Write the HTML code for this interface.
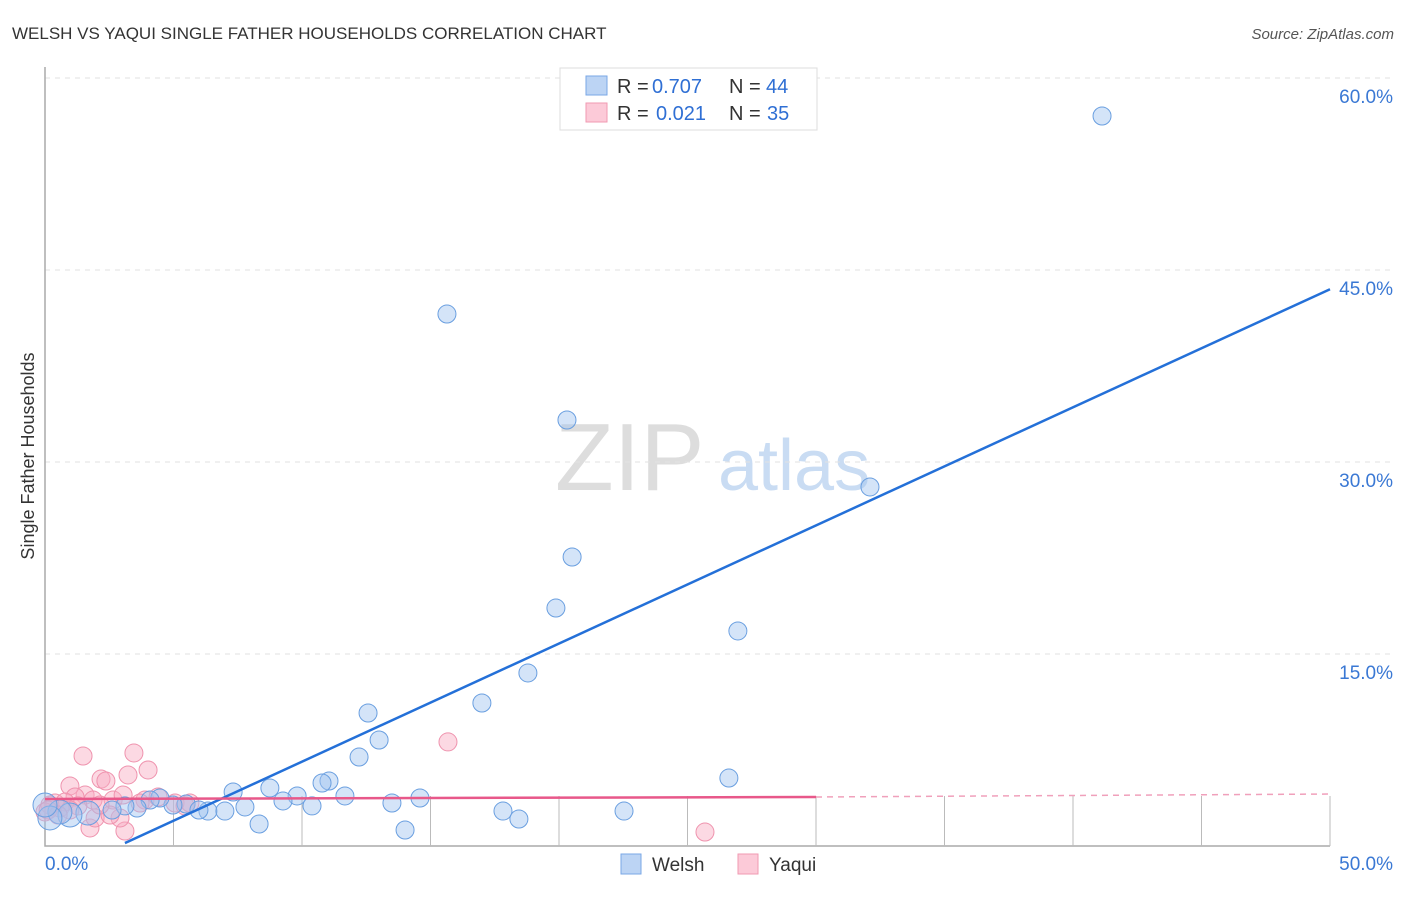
<!DOCTYPE html>
<html><head><meta charset="utf-8"><style>
body{margin:0;background:#fff;font-family:"Liberation Sans",sans-serif}
svg text{font-family:"Liberation Sans",sans-serif}
</style></head><body>
<svg width="1406" height="892" id="chart">
<text x="12" y="39" font-size="17" fill="#333">WELSH VS YAQUI SINGLE FATHER HOUSEHOLDS CORRELATION CHART</text>
<text x="1394" y="39" font-size="15" fill="#555" font-style="italic" text-anchor="end">Source: ZipAtlas.com</text>
<text x="34" y="456" font-size="18" fill="#333" text-anchor="middle" transform="rotate(-90 34 456)">Single Father Households</text>
<text x="555" y="490" font-size="96" fill="#ddd" font-family="Liberation Serif">ZIP</text>
<text x="718" y="490" font-size="72" fill="#c9dcf3">atlas</text>
<g id="grid"></g><g id="pts"></g><g id="lines"></g>
<g>
<rect x="560" y="68" width="257" height="62" fill="#fff" stroke="#ddd"/>
<rect x="586" y="76" width="21" height="19" fill="#bcd4f4" stroke="#7aa7e6"/>
<text x="617" y="93" font-size="20" fill="#333">R =</text>
<text x="652" y="93" font-size="20" fill="#2f6fd4">0.707</text>
<text x="729" y="93" font-size="20" fill="#333">N =</text>
<text x="766" y="93" font-size="20" fill="#2f6fd4">44</text>
<rect x="586" y="103" width="21" height="19" fill="#fccad8" stroke="#f09ab2"/>
<text x="617" y="120" font-size="20" fill="#333">R =</text>
<text x="656" y="120" font-size="20" fill="#2f6fd4">0.021</text>
<text x="729" y="120" font-size="20" fill="#333">N =</text>
<text x="767" y="120" font-size="20" fill="#2f6fd4">35</text>
</g>
<g>
<rect x="621" y="854" width="20" height="20" fill="#bcd4f4" stroke="#7aa7e6"/>
<text x="652" y="871" font-size="19" fill="#333">Welsh</text>
<rect x="738" y="854" width="20" height="20" fill="#fccad8" stroke="#f09ab2"/>
<text x="769" y="871" font-size="19" fill="#333">Yaqui</text>
</g>
</svg>
<script>
const yTicks=[15,30,45,60];
const welshX=[41.13,15.64,20.31,32.10,20.51,19.88,26.96,18.79,17.00,12.57,13.00,12.22,26.61,11.05,10.78,8.75,7.32,9.81,11.67,14.59,9.26,13.50,10.39,7.78,22.53,17.82,18.44,8.33,14.01,6.34,7.00,5.49,4.98,5.99,4.47,4.09,3.58,3.11,2.61,1.67,0.97,0.58,0.19,0.0];
const welshY=[57.03,41.56,33.28,28.05,22.58,18.59,16.80,13.52,11.17,10.39,8.28,6.95,5.31,5.08,4.92,4.53,4.22,3.91,3.91,3.75,3.52,3.36,3.13,3.05,2.73,2.73,2.11,1.72,1.25,2.73,2.73,3.28,3.20,2.81,3.75,3.59,2.97,3.13,2.81,2.58,2.42,2.66,2.19,3.20];
const yaquiX=[25.68,15.68,1.48,3.46,4.01,0.97,2.18,2.37,3.23,1.56,1.17,1.87,2.65,3.04,3.89,4.40,5.06,5.45,3.11,1.75,2.92,1.95,0.58,0.39,0.19,0.78,1.28,0.0,0.97,3.70,5.64,2.53,2.14,0.12,0.51];
const yaquiY=[1.09,8.13,7.03,7.27,5.94,4.69,5.23,5.08,5.55,3.98,3.83,3.59,3.59,3.98,3.59,3.83,3.36,3.13,1.17,1.41,2.19,2.19,2.97,3.36,3.20,3.44,3.13,2.66,2.81,3.36,3.36,2.42,3.20,2.81,2.42];
const welshTrend=[[3.11,0.23],[50,43.5]];
const yaquiTrend=[[0,3.67],[30,3.83],[50,4.06]];
const X=v=>45+v*25.7, Y=v=>846-v*12.8;
const NS='http://www.w3.org/2000/svg';
function mk(t,a,p){const e=document.createElementNS(NS,t);for(const k in a)e.setAttribute(k,a[k]);p.appendChild(e);return e;}
const g=document.getElementById('grid');
for(const t of yTicks){
 const l=mk('line',{x1:45,x2:1393,y1:Y(t),y2:Y(t),stroke:'#e2e2e2','stroke-dasharray':'5,5'},g);
 
 
 const tx=mk('text',{x:1393,y:Y(t)+25,'font-size':19,fill:'#3a78d4','text-anchor':'end'},g);
 tx.textContent=t.toFixed(1)+'%';
 
 
}
const ax=mk('path',{d:'M45,67V846H1330',fill:'none',stroke:'#aaa','stroke-width':1.5},g);


for(let k=1;k<=10;k++){const tk=mk('line',{x1:X(k*5),x2:X(k*5),y1:796,y2:846,stroke:'#bbb'},g);

}
const xl0=mk('text',{x:45,y:870,'font-size':19,fill:'#3a78d4'},g);xl0.textContent='0.0%';


const xl1=mk('text',{x:1393,y:870,'font-size':19,fill:'#3a78d4','text-anchor':'end'},g);xl1.textContent='50.0%';


const p=document.getElementById('pts');
yaquiX.forEach((x,i)=>{const c=mk('circle',{cx:X(x),cy:Y(yaquiY[i]),r:9,fill:'rgba(248,170,194,0.45)',stroke:'#ef93ae','stroke-width':1},p);

});
welshX.forEach((x,i)=>{const c=mk('circle',{cx:X(x),cy:Y(welshY[i]),r:(x<2?12:9),fill:'rgba(160,196,240,0.45)',stroke:'#6a9fe0','stroke-width':1},p);

});
const L=document.getElementById('lines');
const wl=mk('line',{x1:X(welshTrend[0][0]),y1:Y(welshTrend[0][1]),x2:X(welshTrend[1][0]),y2:Y(welshTrend[1][1]),stroke:'#2470d8','stroke-width':2.5},L);


const yl=mk('line',{x1:X(yaquiTrend[0][0]),y1:Y(yaquiTrend[0][1]),x2:X(yaquiTrend[1][0]),y2:Y(yaquiTrend[1][1]),stroke:'#e8588a','stroke-width':2.5},L);


const yd=mk('line',{x1:X(yaquiTrend[1][0]),y1:Y(yaquiTrend[1][1]),x2:X(yaquiTrend[2][0]),y2:Y(yaquiTrend[2][1]),stroke:'#f0a0bb','stroke-width':1.5,'stroke-dasharray':'6,5'},L);


</script>
</body></html>
